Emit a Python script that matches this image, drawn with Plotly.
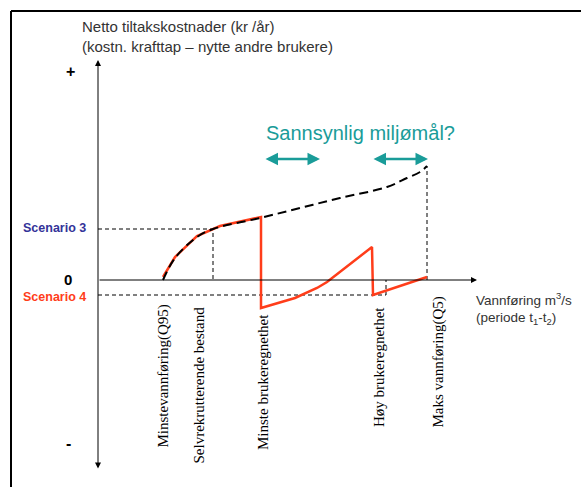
import plotly.graph_objects as go

# Conceptual chart: coordinates in arbitrary units (origin at axis crossing)
scenario_x = [65, 77, 99, 122, 163, 163, 197, 219, 229, 274, 275, 329]
scenario_y = [3, 23, 44, 54, 63, -28, -18, -8, -2, 33, -15, 3]

cost_curve_x = [65, 77, 99, 115, 162, 202, 242, 289, 309, 322, 329]
cost_curve_y = [0, 22, 43, 51, 62, 72, 82, 93, 102, 108, 114]

scenario3_level = 51
scenario3_x = 115
scenario4_level = -15
scenario4_x = 288
max_flow_x = 329

flow_labels = ["Minstevannføring(Q95)", "Selvrekrutterende bestand",
               "Minste brukeregnethet", "Høy brukeregnethet", "Maks vannføring(Q5)"]
flow_label_x = [65, 100, 165, 281, 340]
flow_label_top = [-23, -25, -32, -25, -15]

goal_ranges = [(166, 222), (274, 330)]

RED = "#FF3D1A"
TEAL = "#1A9C99"

fig = go.Figure()

# guide lines
fig.add_trace(go.Scatter(x=[0, scenario3_x, scenario3_x], y=[scenario3_level, scenario3_level, 0],
                         mode="lines", line=dict(color="black", width=1, dash="4px,3px"), hoverinfo="skip"))
fig.add_trace(go.Scatter(x=[0, scenario4_x, scenario4_x], y=[scenario4_level, scenario4_level, 0],
                         mode="lines", line=dict(color="black", width=1, dash="4px,3px"), hoverinfo="skip"))
fig.add_trace(go.Scatter(x=[max_flow_x, max_flow_x], y=[0, cost_curve_y[-1]],
                         mode="lines", line=dict(color="black", width=1, dash="4px,3px"), hoverinfo="skip"))

# scenario line (red)
fig.add_trace(go.Scatter(x=scenario_x, y=scenario_y, mode="lines",
                         line=dict(color=RED, width=2.5), hoverinfo="skip"))
# cost curve (black dashed)
fig.add_trace(go.Scatter(x=cost_curve_x, y=cost_curve_y, mode="lines",
                         line=dict(color="black", width=2, dash="9px,5px", shape="spline"),
                         hoverinfo="skip"))

ann = []
# vertical axis with two arrowheads
ann.append(dict(x=0, y=220, ax=0, ay=-190, xref="x", yref="y", axref="x", ayref="y",
                showarrow=True, arrowhead=2, arrowside="end+start", arrowsize=1.2,
                arrowwidth=1, arrowcolor="black", text=""))
# horizontal axis
ann.append(dict(x=379, y=0, ax=0, ay=0, xref="x", yref="y", axref="x", ayref="y",
                showarrow=True, arrowhead=2, arrowsize=1.2, arrowwidth=1,
                arrowcolor="black", text=""))
# teal double arrows
for a, b in goal_ranges:
    ann.append(dict(x=b, y=121, ax=a, ay=121, xref="x", yref="y", axref="x", ayref="y",
                    showarrow=True, arrowhead=2, arrowside="end+start", arrowsize=1,
                    arrowwidth=2.5, arrowcolor=TEAL, text=""))

ann.append(dict(x=262, y=147, xref="x", yref="y", showarrow=False,
                text="Sannsynlig miljømål?", font=dict(family="Arial", size=20, color=TEAL)))

# y-axis title
ann.append(dict(x=-18, y=244, xref="x", yref="y", showarrow=False, xanchor="left", align="left",
                text="Netto tiltakskostnader (kr /år)<br>(kostn. krafttap – nytte andre brukere)",
                font=dict(family="Arial", size=15, color="#333333")))
# x-axis title
ann.append(dict(x=376, y=-28, xref="x", yref="y", showarrow=False, xanchor="left", align="left",
                text="Vannføring m<sup>3</sup>/s<br>(periode t<sub>1</sub>-t<sub>2</sub>)",
                font=dict(family="Arial", size=13.5, color="#333333")))

# signs and zero
ann.append(dict(x=-28, y=209, xref="x", yref="y", showarrow=False, text="<b>+</b>",
                font=dict(family="Arial", size=16, color="black")))
ann.append(dict(x=-30, y=1, xref="x", yref="y", showarrow=False, text="<b>0</b>",
                font=dict(family="Arial", size=15, color="black")))
ann.append(dict(x=-30, y=-163, xref="x", yref="y", showarrow=False, text="<b>-</b>",
                font=dict(family="Arial", size=16, color="black")))
ann.append(dict(x=-44, y=52, xref="x", yref="y", showarrow=False, text="<b>Scenario 3</b>",
                font=dict(family="Arial", size=12.5, color="#333399")))
ann.append(dict(x=-44, y=-17, xref="x", yref="y", showarrow=False, text="<b>Scenario 4</b>",
                font=dict(family="Arial", size=12.5, color=RED)))

for lab, lx, ly in zip(flow_labels, flow_label_x, flow_label_top):
    ann.append(dict(x=lx, y=ly, xref="x", yref="y", showarrow=False, text=lab, textangle=-90,
                    xanchor="center", yanchor="top",
                    font=dict(family="Liberation Serif", size=15, color="black")))

fig.update_layout(
    width=581, height=487, margin=dict(l=0, r=0, t=0, b=0),
    paper_bgcolor="white", plot_bgcolor="white", showlegend=False,
    xaxis=dict(range=[-98, 483], visible=False, fixedrange=True),
    yaxis=dict(range=[-207, 280], visible=False, fixedrange=True),
    annotations=ann,
    shapes=[
        dict(type="line", xref="x", yref="y", x0=-87, y0=269, x1=490, y1=269,
             line=dict(color="black", width=2)),
        dict(type="line", xref="x", yref="y", x0=-87, y0=269, x1=-87, y1=-210,
             line=dict(color="black", width=2)),
    ],
)

fig.write_html("out.html", config={"displayModeBar": False},
               post_script="document.body.style.margin='0px';document.body.style.overflow='hidden';")
